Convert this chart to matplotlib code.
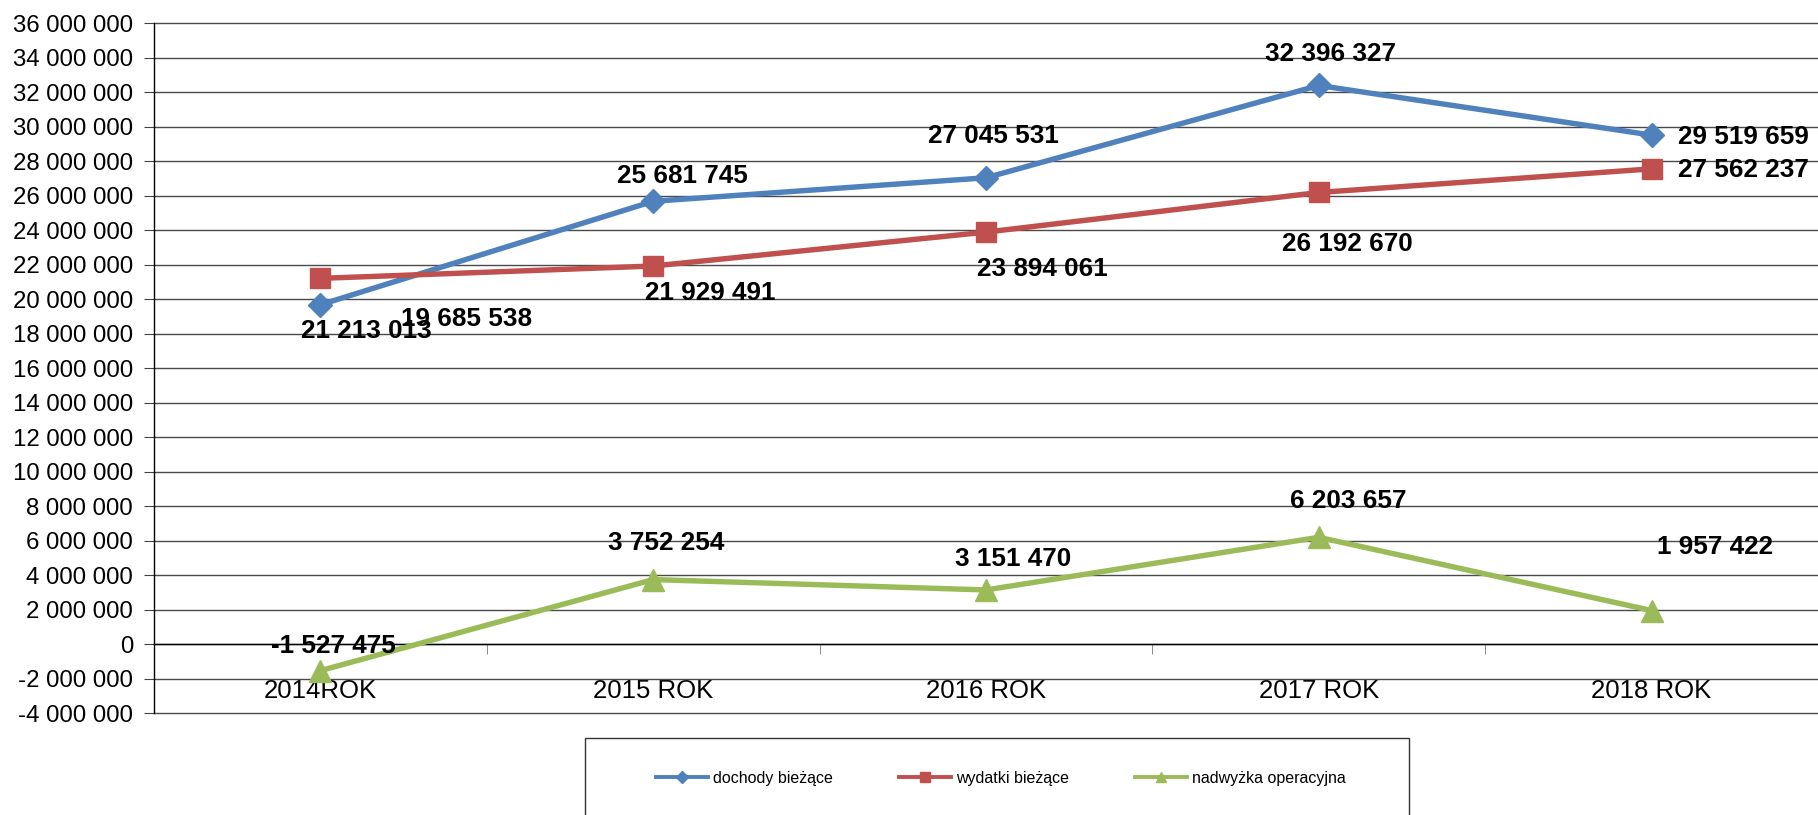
import matplotlib
matplotlib.use("Agg")
import matplotlib.pyplot as plt
from matplotlib.lines import Line2D
from matplotlib.patches import Rectangle
from matplotlib.ticker import FuncFormatter, MultipleLocator

plt.rcParams['font.family'] = ['Liberation Sans', 'DejaVu Sans']

# ---- data ----
categories = ["2014ROK", "2015 ROK", "2016 ROK", "2017 ROK", "2018 ROK"]
dochody = [19685538, 25681745, 27045531, 32396327, 29519659]
wydatki = [21213013, 21929491, 23894061, 26192670, 27562237]
nadwyzka = [-1527475, 3752254, 3151470, 6203657, 1957422]
series_names = ["dochody bieżące", "wydatki bieżące", "nadwyżka operacyjna"]

# ---- style ----
colors = ["#4F81BD", "#C0504D", "#9BBB59"]
markers = ["D", "s", "^"]
msizes = [12.0, 14.5, 15.5]
# label offsets (pixels) relative to each point, as seen in the reference
offsets = [
    [(146, -14), (29, 25), (7, 42), (12, 31), (92, -2)],
    [(46, -53), (57, -27), (56, -37), (29, -52), (92, -1)],
    [(13, 25), (13, 37), (27, 31), (29, 36), (63, 64)],
]

W, H, DPI = 1818, 815, 100
fig = plt.figure(figsize=(W / DPI, H / DPI), dpi=DPI)
ax = fig.add_axes([154 / W, (H - 713.3) / H, (W - 154) / W, (713.3 - 23.3) / H])

x = list(range(len(categories)))
all_series = [dochody, wydatki, nadwyzka]
for vals, c, m, ms, offs in zip(all_series, colors, markers, msizes, offsets):
    ax.plot(x, vals, color=c, lw=3.9, marker=m, markersize=ms,
            markeredgecolor=c, markerfacecolor=c, zorder=3, solid_joinstyle='round')
    for xi, v, (dx, dy) in zip(x, vals, offs):
        s = f"{v:,}".replace(",", " ")
        ax.annotate(s, (xi, v), xytext=(dx, dy), textcoords='offset pixels',
                    ha='center', va='center', fontsize=18.8, fontweight='bold',
                    color='black', zorder=5, annotation_clip=False)

ax.set_xlim(-0.5, len(categories) - 0.5)
ax.set_ylim(-4e6, 36e6)
ax.yaxis.set_major_locator(MultipleLocator(2e6))
ax.yaxis.set_major_formatter(FuncFormatter(lambda v, p: f"{int(round(v)):,}".replace(",", " ")))
ax.grid(axis='y', color='#4a4a4a', lw=1.0)
ax.set_axisbelow(True)
for gl in ax.get_ygridlines():
    gl.set_clip_on(False)

for sp in ['top', 'right']:
    ax.spines[sp].set_visible(False)
ax.spines['bottom'].set_position(('data', 0))
ax.spines['bottom'].set_color('black')
ax.spines['bottom'].set_linewidth(1.0)
ax.spines['left'].set_color('black')
ax.spines['left'].set_linewidth(1.0)

ax.set_xticks(x)
ax.set_xticklabels(categories, fontsize=18.5)
ax.tick_params(axis='x', which='major', length=0, pad=25)
ax.set_xticks([i + 0.5 for i in x[:-1]], minor=True)
ax.tick_params(axis='x', which='minor', length=7, direction='out', color='#777777')
ax.tick_params(axis='y', length=7, direction='out', labelsize=17.3, pad=8, color='#444444')

# ---- legend ----
handles = [Line2D([0], [0], color=c, lw=2.8, marker=m, markersize=ms * 0.5,
                  markeredgecolor=c, markerfacecolor=c)
           for c, m, ms in zip(colors, markers, msizes)]
fig.legend(handles, series_names, loc='center', bbox_to_anchor=(1001 / W, (H - 778) / H),
           ncol=3, frameon=False, fontsize=11.5, handlelength=3.25, handletextpad=0.35,
           columnspacing=4.1)
fig.patches.append(Rectangle((585 / W, -0.1), (1409 - 585) / W, 0.1 + (H - 738) / H,
                             transform=fig.transFigure, fill=False, edgecolor='#333333',
                             lw=1.0, clip_on=False))

fig.savefig("out.png", dpi=DPI)
